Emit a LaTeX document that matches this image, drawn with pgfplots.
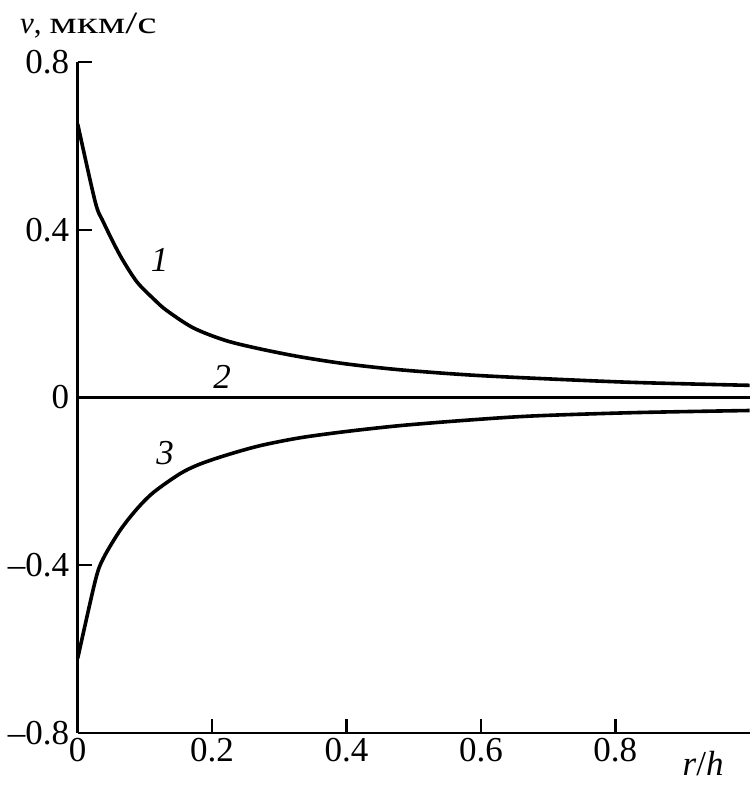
\documentclass[border=0pt]{standalone}
\usepackage{pgfplots}
\pgfplotsset{compat=1.18}
\usepackage{graphicx}
\usepackage{fontspec}
\setmainfont{Liberation Serif}
\begin{document}
\begin{tikzpicture}
\begin{axis}[name=ax,
  scale only axis, width=672pt, height=671pt,
  xmin=0, xmax=1.0, ymin=-0.8, ymax=0.8,
  axis x line=bottom, axis y line=left,
  axis line style={-, line width=2.6pt, black},
  tick align=inside, major tick length=14pt,
  tick style={line width=2.4pt, black},
  xtick={0,0.2,0.4,0.6,0.8}, xticklabels={0,0.2,0.4,0.6,0.8},
  ytick={-0.8,-0.4,0,0.4,0.8}, yticklabels={--0.8,--0.4,0,0.4,0.8},
  tick label style={font=\fontsize{35}{40}\selectfont},
  xticklabel style={yshift=-2pt},
  yticklabel style={xshift=-5pt},
  clip=false,
]
\addplot[black, line width=3.6pt, smooth, tension=0.5] coordinates {
 (0,0.652) (0.026,0.467) (0.038,0.419) (0.063,0.339) (0.088,0.276) (0.113,0.235) (0.132,0.208) (0.172,0.166) (0.22,0.136) (0.271,0.116) (0.331,0.097) (0.40,0.080) (0.480,0.066) (0.58,0.054) (0.678,0.046) (0.827,0.036) (1.0,0.029)};
\addplot[black, line width=3.6pt] coordinates {(0,0) (1.0,0)};
\addplot[black, line width=3.6pt, smooth, tension=0.5] coordinates {
 (0,-0.622) (0.026,-0.438) (0.038,-0.384) (0.063,-0.317) (0.088,-0.266) (0.113,-0.226) (0.152,-0.182) (0.180,-0.160) (0.22,-0.138) (0.271,-0.115) (0.331,-0.096) (0.40,-0.081) (0.480,-0.067) (0.58,-0.054) (0.678,-0.044) (0.83,-0.036) (1.0,-0.031)};
\node[font=\fontsize{35}{40}\selectfont\itshape] at (axis cs:0.122,0.328) {1};
\node[font=\fontsize{35}{40}\selectfont\itshape] at (axis cs:0.215,0.048) {2};
\node[font=\fontsize{35}{40}\selectfont\itshape] at (axis cs:0.13,-0.132) {3};
\node[anchor=base west, inner sep=0pt, font=\fontsize{31}{40}\selectfont] at (axis cs:-0.086,0.868) {\textit{v}, \scalebox{1.4}[1]{мкм/с}};
\node[anchor=base west, inner sep=0pt, font=\fontsize{35}{40}\selectfont] at (axis cs:0.9,-0.902) {\textit{r}/\textit{h}};
\end{axis}
\pgfresetboundingbox
\path[use as bounding box] ([shift={(-77.7pt,-52pt)}]ax.south west) rectangle ([shift={(677.3pt,733pt)}]ax.south west);
\end{tikzpicture}
\end{document}
